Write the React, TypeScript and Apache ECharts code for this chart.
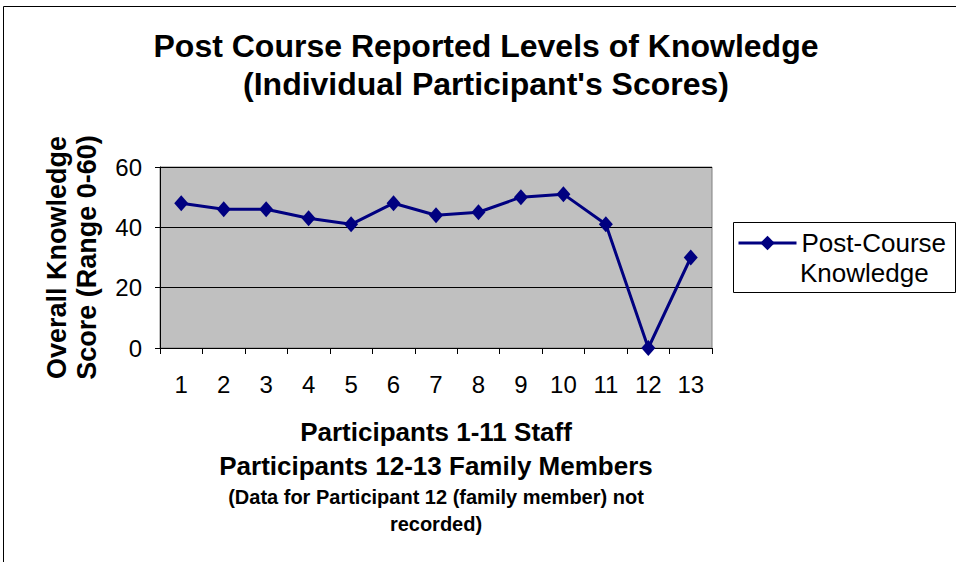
import React, { useEffect, useRef } from "react";
import * as echarts from "echarts";

const titleLines = ["Post Course Reported Levels of Knowledge", "(Individual Participant's Scores)"];
const participants = ["1", "2", "3", "4", "5", "6", "7", "8", "9", "10", "11", "12", "13"];
const knowledgeScores = [48, 46, 46, 43, 41, 48, 44, 45, 50, 51, 41, 0, 30];
const seriesName = "Post-Course Knowledge";
const legendLines = ["Post-Course", "Knowledge"];
const yAxisNameLines = ["Overall Knowledge", "Score (Range 0-60)"];
const xAxisNameMain = ["Participants 1-11 Staff", "Participants 12-13 Family Members"];
const xAxisNameNote = ["(Data for Participant 12 (family member) not", "recorded)"];
const yMin = 0;
const yMax = 60;
const yInterval = 20;

const FONT = "'Liberation Sans', Arial, Helvetica, sans-serif";

export default function App() {
  const ref = useRef<HTMLDivElement>(null);

  useEffect(() => {
    if (!ref.current) return;
    const chart = echarts.init(ref.current, null, { renderer: "svg" });
    const xName =
      xAxisNameMain.map((l) => `{a|${l}}`).join("\n") +
      "\n" +
      xAxisNameNote.map((l) => `{b|${l}}`).join("\n");
    chart.setOption({
      animation: false,
      backgroundColor: "#ffffff",
      textStyle: { fontFamily: FONT },
      title: {
        text: titleLines.join("\n"),
        left: 486,
        textAlign: "center",
        top: 27,
        padding: 0,
        textStyle: {
          fontFamily: FONT,
          fontSize: 32,
          fontWeight: "bold",
          color: "#000",
          lineHeight: 38,
        },
      },
      graphic: [
        {
          type: "rect",
          z: 0,
          silent: true,
          shape: { x: 3.5, y: 6.5, width: 1000, height: 600 },
          style: { fill: "none", stroke: "#000", lineWidth: 1 },
        },
        {
          type: "rect",
          z: 1,
          silent: true,
          shape: { x: 733.5, y: 222.5, width: 222, height: 70 },
          style: { fill: "#fff", stroke: "#000", lineWidth: 1 },
        },
        {
          type: "text",
          z: 6,
          silent: true,
          x: 800,
          y: 273,
          style: {
            text: legendLines[1],
            fontFamily: FONT,
            fontSize: 26,
            fill: "#000",
            verticalAlign: "middle",
            align: "left",
          },
        },
      ],
      legend: {
        show: true,
        left: 737,
        top: 228,
        padding: 0,
        itemWidth: 58,
        itemHeight: 18,
        z: 5,
        data: [seriesName],
        formatter: () => legendLines[0],
        lineStyle: { width: 3 },
        textStyle: {
          fontFamily: FONT,
          fontSize: 26,
          color: "#000",
          lineHeight: 30,
        },
      },
      grid: {
        left: 160,
        top: 167,
        right: 244,
        bottom: 214,
        show: true,
        backgroundColor: "#C0C0C0",
        borderColor: "#808080",
        borderWidth: 1,
      },
      xAxis: {
        type: "category",
        data: participants,
        boundaryGap: true,
        name: xName,
        nameLocation: "middle",
        nameGap: 67,
        nameTextStyle: {
          rich: {
            a: { fontFamily: FONT, fontSize: 26, fontWeight: "bold", color: "#000", lineHeight: 34 },
            b: { fontFamily: FONT, fontSize: 20, fontWeight: "bold", color: "#000", lineHeight: 27 },
          },
        },
        axisLine: { show: true, lineStyle: { color: "#000", width: 1 } },
        axisTick: { show: true, alignWithLabel: false, length: 6, lineStyle: { color: "#000" } },
        axisLabel: { fontFamily: FONT, fontSize: 24, color: "#000", margin: 24, interval: 0 },
        splitLine: { show: false },
      },
      yAxis: {
        type: "value",
        min: yMin,
        max: yMax,
        interval: yInterval,
        name: yAxisNameLines.join("\n"),
        nameLocation: "middle",
        nameRotate: 90,
        nameGap: 58,
        nameTextStyle: {
          fontFamily: FONT,
          fontSize: 27,
          fontWeight: "bold",
          color: "#000",
          lineHeight: 30,
        },
        axisLine: { show: true, lineStyle: { color: "#000", width: 1 } },
        axisTick: { show: true, length: 5, lineStyle: { color: "#000" } },
        axisLabel: { fontFamily: FONT, fontSize: 24, color: "#000", margin: 18 },
        splitLine: { show: true, lineStyle: { color: "#000", width: 1 } },
      },
      series: [
        {
          name: seriesName,
          type: "line",
          data: knowledgeScores,
          symbol: "diamond",
          symbolSize: [14, 16],
          lineStyle: { color: "#000080", width: 3 },
          itemStyle: { color: "#000080" },
          z: 3,
        },
      ],
    });
    return () => chart.dispose();
  }, []);

  return (
    <div
      ref={ref}
      style={{ position: "absolute", left: 0, top: 0, width: 956, height: 562 }}
    />
  );
}
